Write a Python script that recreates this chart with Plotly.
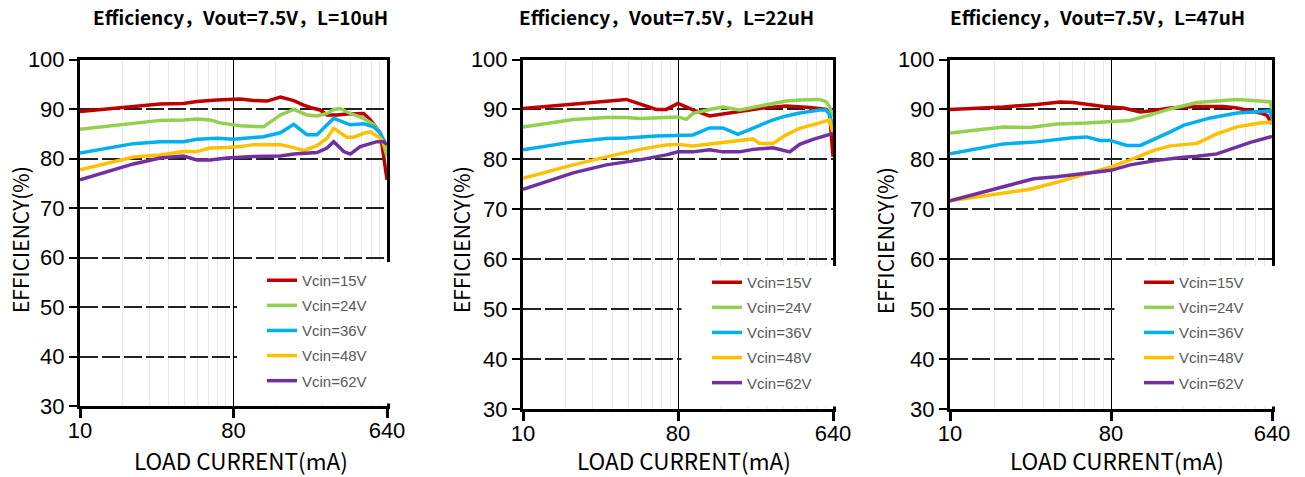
import plotly.graph_objects as go

# ---------------- data ----------------
series_names = ["Vcin=15V", "Vcin=24V", "Vcin=36V", "Vcin=48V", "Vcin=62V"]
series_colors = ["#C00000", "#92D050", "#00B0F0", "#FFC000", "#7030A0"]
panel_titles = ["Efficiency，Vout=7.5V，L=10uH",
                "Efficiency，Vout=7.5V，L=22uH",
                "Efficiency，Vout=7.5V，L=47uH"]
x_tick_vals = [10, 80, 640]
y_tick_vals = [30, 40, 50, 60, 70, 80, 90, 100]
x_title = "LOAD CURRENT(mA)"
y_title = "EFFICIENCY(%)"

# L = 10uH
l10_x_15 = [10, 20.6, 29.6, 40.6, 48.7, 63.8, 87.6, 105, 126, 151, 181, 207, 226, 259, 284, 325, 372, 467, 511, 585, 640]
l10_y_15 = [89.5, 90.5, 91, 91.1, 91.5, 91.8, 92.0, 91.7, 91.6, 92.4, 91.7, 90.8, 90.3, 89.8, 88.8, 88.8, 89, 89.1, 87.8, 85.1, 75.7]
l10_x_24 = [10, 16.4, 29.6, 40.6, 48.7, 58.3, 66.8, 87.6, 105, 120, 151, 181, 216, 248, 284, 311, 340, 389, 467, 534, 585, 640]
l10_y_24 = [85.9, 86.8, 87.7, 87.8, 88, 87.8, 87.2, 86.6, 86.4, 86.4, 88.8, 89.9, 88.8, 88.6, 89.1, 89.9, 90.1, 89.1, 88.1, 86.8, 85.1, 80.4]
l10_x_36 = [10, 20.6, 29.6, 40.6, 48.7, 63.8, 80.5, 95.9, 120, 151, 181, 216, 248, 284, 311, 389, 467, 534, 585, 640]
l10_y_36 = [81.1, 83, 83.4, 83.4, 83.9, 84.1, 83.9, 84.1, 84.4, 85.2, 86.9, 84.8, 84.8, 86.8, 88.1, 86.8, 87, 86.4, 85.1, 82.4]
l10_x_48 = [10, 20.6, 29.6, 40.6, 48.7, 58.3, 73.1, 87.6, 105, 151, 181, 207, 248, 284, 311, 372, 407, 467, 511, 585, 640]
l10_y_48 = [77.7, 80.3, 80.7, 81.4, 81.4, 82.1, 82.2, 82.4, 82.8, 82.8, 82.2, 81.6, 82.6, 84.1, 86.1, 84.3, 84.3, 85.1, 85.4, 84.1, 82.1]
l10_x_62 = [10, 20.6, 29.6, 40.6, 48.7, 58.3, 73.1, 105, 151, 181, 248, 284, 311, 356, 389, 446, 488, 559, 612, 640]
l10_y_62 = [75.7, 78.9, 80.1, 80.5, 79.7, 79.7, 80.1, 80.4, 80.5, 80.9, 81.2, 82.1, 83.4, 81.4, 80.9, 82.4, 82.8, 83.4, 83.4, 82.8]

# L = 22uH
l22_x_15 = [10, 40, 59.8, 68.4, 80, 97.9, 122, 183, 250, 342, 468, 585, 612, 640]
l22_y_15 = [90.2, 92.0, 90, 90, 91.2, 89.9, 88.7, 89.7, 90.3, 90.7, 90.4, 90, 89.2, 80.5]
l22_x_24 = [10, 19.6, 30.6, 40, 47.8, 68.4, 80, 89.5, 97.9, 122, 146, 183, 219, 286, 342, 409, 535, 585, 612, 640]
l22_y_24 = [86.5, 88, 88.4, 88.4, 88.2, 88.4, 88.5, 88, 89.2, 90, 90.5, 89.9, 90.4, 91.3, 91.7, 91.9, 92, 91.5, 90.5, 88.5]
l22_x_36 = [10, 19.6, 30.6, 40, 59.8, 80, 97.9, 122, 146, 179, 219, 286, 342, 409, 535, 585, 612, 640]
l22_y_36 = [81.9, 83.5, 84.2, 84.3, 84.7, 84.9, 84.9, 86.3, 86.3, 85, 86.2, 87.9, 88.7, 89.3, 89.9, 89.9, 88.9, 86.5]
l22_x_48 = [10, 19.6, 30.6, 47.8, 68.4, 80, 97.9, 122, 146, 191, 219, 239, 286, 342, 409, 535, 612, 640]
l22_y_48 = [76.2, 78.9, 80.5, 82, 82.9, 83, 82.7, 83.1, 83.5, 83.9, 84.1, 83.2, 83.2, 84.9, 86.2, 87.3, 87.9, 85.2]
l22_x_62 = [10, 19.6, 30.6, 47.8, 68.4, 80, 97.9, 122, 146, 183, 219, 286, 358, 409, 490, 585, 640]
l22_y_62 = [74, 77.3, 78.9, 79.9, 80.9, 81.5, 81.5, 81.9, 81.5, 81.5, 82, 82.3, 81.5, 83, 84, 84.7, 85.2]

# L = 47uH
l47_x_15 = [10, 19.9, 30.7, 41.5, 49.3, 58.5, 72.6, 94, 117, 139, 172, 243, 343, 407, 550, 600, 640]
l47_y_15 = [90, 90.5, 91, 91.5, 91.4, 91, 90.6, 90.3, 89.5, 89.8, 90.3, 90.6, 90.6, 90.3, 89.3, 88.8, 87.1]
l47_x_24 = [10, 19.9, 28.1, 39.7, 58.5, 79.2, 102.5, 139, 172, 243, 343, 407, 550, 626, 640]
l47_y_24 = [85.3, 86.5, 86.4, 87.1, 87.3, 87.5, 87.8, 89.1, 90.1, 91.4, 91.9, 92, 91.7, 91.5, 89.8]
l47_x_36 = [10, 19.9, 30.7, 47.2, 58.5, 69.5, 79.2, 98.2, 117, 145, 172, 204, 288, 407, 550, 626, 640]
l47_y_36 = [81.1, 83.1, 83.5, 84.3, 84.5, 83.8, 83.8, 82.8, 82.8, 84.2, 85.5, 86.8, 88.3, 89.3, 89.7, 89.7, 88.1]
l47_x_48 = [10, 19.9, 28.1, 39.7, 58.5, 80, 102.5, 139, 172, 204, 243, 314, 407, 550, 640]
l47_y_48 = [71.7, 73.2, 74, 75.4, 77.1, 78.5, 79.9, 81.8, 82.7, 83, 83.2, 85.1, 86.5, 87.3, 87.5]
l47_x_62 = [10, 19.9, 29.4, 39.7, 58.5, 80, 102.5, 145, 204, 243, 314, 407, 484, 640]
l47_y_62 = [71.7, 74.4, 76.1, 76.5, 77.3, 77.8, 78.9, 79.8, 80.4, 80.6, 81.1, 82.4, 83.4, 84.6]

panel_data = [
    [(l10_x_15, l10_y_15), (l10_x_24, l10_y_24), (l10_x_36, l10_y_36), (l10_x_48, l10_y_48), (l10_x_62, l10_y_62)],
    [(l22_x_15, l22_y_15), (l22_x_24, l22_y_24), (l22_x_36, l22_y_36), (l22_x_48, l22_y_48), (l22_x_62, l22_y_62)],
    [(l47_x_15, l47_y_15), (l47_x_24, l47_y_24), (l47_x_36, l47_y_36), (l47_x_48, l47_y_48), (l47_x_62, l47_y_62)],
]

# ---------------- layout geometry (window pixels) ----------------
W, H = 1305, 477
def px(x):
    return x / W
def py(y):
    return 1 - y / H

# left, right, top, bottom of each plot area (window pixels)
panels = [(80, 387, 59.5, 406), (523, 833, 59.5, 409), (950, 1272, 59.5, 409)]
title_cx = [240, 666, 1097]
xtitle_cx = [241, 684, 1117]
ytitle_cx = [20, 461, 885]
legend_top = [264, 266, 266]
legend_x = [262, 707, 1139]
box_top = [262, 266, 266]

# minor vertical grid lines (Excel-style: 9 divisions per major step)
minor_vals = [10 + k * 70 / 9 for k in range(1, 9)] + [80 + k * 560 / 9 for k in range(1, 9)]

fig = go.Figure()
layout = dict(
    width=W, height=H,
    margin=dict(l=0, r=0, t=0, b=0, autoexpand=False),
    paper_bgcolor="white", plot_bgcolor="white",
    showlegend=True,
    annotations=[], shapes=[],
)

TICK_FONT = dict(family="Liberation Sans, Arial", size=22, color="black")
CJK = "Noto Sans CJK SC"

for i, (l, r, t, b) in enumerate(panels):
    sfx = "" if i == 0 else str(i + 1)
    xa, ya = "x" + sfx, "y" + sfx
    leg = "legend" + sfx
    for j, (xs, ys) in enumerate(panel_data[i]):
        fig.add_trace(go.Scatter(
            x=xs, y=ys, mode="lines", name=series_names[j],
            line=dict(color=series_colors[j], width=3.5),
            xaxis=xa, yaxis=ya, legend=leg,
            legendgroup=f"p{i}s{j}", hoverinfo="skip",
        ))
    layout["xaxis" + sfx] = dict(
        domain=[px(l), px(r)], anchor=ya, type="log", automargin=False,
        range=[1, 2.80618], tickmode="array", tickvals=x_tick_vals,
        ticktext=[str(v) for v in x_tick_vals],
        tickfont=TICK_FONT, ticks="outside", ticklen=9, tickwidth=3, tickcolor="black",
        ticklabelstandoff=-6,
        showline=True, linewidth=3, linecolor="black", mirror=True,
        showgrid=True, gridcolor="black", gridwidth=1.3,
        minor=dict(tickvals=minor_vals, showgrid=True, gridcolor="#e8e8e8", gridwidth=1, ticks=""),
        zeroline=False, fixedrange=True,
    )
    layout["yaxis" + sfx] = dict(
        domain=[py(b), py(t)], anchor=xa, range=[30, 100], automargin=False,
        tickmode="array", tickvals=y_tick_vals,
        tickfont=TICK_FONT, ticks="outside", ticklen=8, tickwidth=2, tickcolor="black",
        showline=True, linewidth=3, linecolor="black", mirror=True,
        showgrid=True, gridcolor="#222222", gridwidth=1.6, griddash="18px,4px",
        zeroline=False, fixedrange=True,
    )
    xmid = l + (r - l) * 0.5
    # white legend box covering lower-right area
    layout["shapes"].append(dict(
        type="rect", xref="paper", yref="paper", layer="above",
        x0=px(xmid + 3.5), x1=px(r + 3),
        y0=py(b - 2.5), y1=py(box_top[i]),
        fillcolor="white", line=dict(width=0),
    ))
    layout[leg] = dict(
        x=px(legend_x[i]), y=py(legend_top[i]),
        xanchor="left", yanchor="top",
        bgcolor="rgba(0,0,0,0)", borderwidth=0,
        font=dict(family="Liberation Sans, Arial", size=15, color="#595959"),
        tracegroupgap=2.6, traceorder="grouped",
    )
    layout["annotations"].append(dict(
        text=f"<b>{panel_titles[i]}</b>", xref="paper", yref="paper",
        x=px(title_cx[i]), y=py(17), showarrow=False,
        xanchor="center", yanchor="middle",
        font=dict(family=CJK, size=19, color="black"),
    ))
    layout["annotations"].append(dict(
        text=x_title, xref="paper", yref="paper",
        x=px(xtitle_cx[i]), y=py(460), showarrow=False,
        xanchor="center", yanchor="middle",
        font=dict(family=CJK, size=22.5, color="black"),
    ))
    layout["annotations"].append(dict(
        text=y_title, xref="paper", yref="paper", textangle=-90,
        x=px(ytitle_cx[i]), y=py(240), showarrow=False,
        xanchor="center", yanchor="middle",
        font=dict(family=CJK, size=21, color="black"),
    ))

fig.update_layout(**layout)
# remove the browser's default 8px body margin so the figure sits at the window origin
fig.write_html("out.html", config={"displayModeBar": False},
               post_script="document.body.style.margin='0px';")
